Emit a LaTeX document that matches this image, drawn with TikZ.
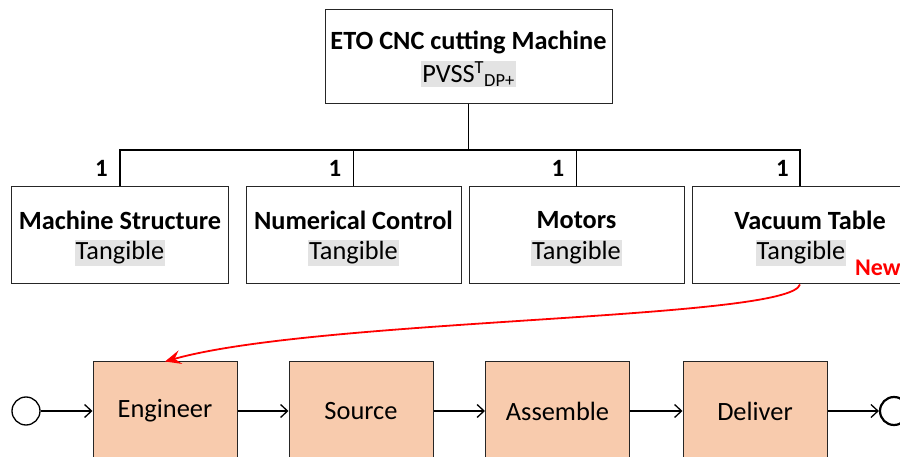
\documentclass[tikz,border=0pt]{standalone}
\usepackage{fontspec}
\setmainfont{Carlito}
\usetikzlibrary{arrows.meta}
\definecolor{peach}{HTML}{F8CBAD}
\definecolor{hl}{HTML}{E3E3E3}
\definecolor{newred}{HTML}{FF0000}
\begin{document}
\begin{tikzpicture}[x=1bp,y=-1bp,
  box/.style={draw=black!85,line width=1bp,fill=white,minimum width=#1,minimum height=97bp,inner sep=0pt},
  topbox/.style={draw=black!85,line width=1bp,fill=white,minimum width=287bp,minimum height=94bp,inner sep=0pt},
  nametxt/.style={font=\fontsize{26.4}{28}\selectfont\bfseries,inner sep=0pt},
  subtxt/.style={font=\fontsize{26.4}{28}\selectfont,fill=hl,inner sep=1.2bp},
  mult/.style={font=\fontsize{25}{28}\selectfont\bfseries,inner sep=0pt,anchor=east},
  tree/.style={line width=1.8bp,black},
  stepbox/.style={draw=black!85,line width=1bp,fill=peach,minimum width=144bp,minimum height=98bp,inner sep=0pt,font=\fontsize{26.5}{28}\selectfont},
  flow/.style={line width=1.3bp,-{Straight Barb[length=7bp,width=13bp,line width=1.3bp]}},
  ev/.style={circle,draw=black,minimum size=28bp,inner sep=0pt}
]
\useasboundingbox (0,0) rectangle (900,457);

% top
\node[topbox] (top) at (468.5,57) {};
\node[nametxt] (toptitle) at (468.5,42) {ETO CNC cutting Machine};
\node[subtxt] (topsub) at (468.5,74) {PVSS\textsuperscript{T}\textsubscript{DP+}};

% second level
\node[box=216bp] (b1) at (120,235.5) {};
\node[box=215bp] (b2) at (353.5,235.5) {};
\node[box=215bp] (b3) at (576.5,235.5) {};
\node[box=216bp] (b4) at (800,235.5) {};

\node[nametxt] (n1) at (120,220) {Machine Structure};
\node[nametxt] (n2) at (353.5,220) {Numerical Control};
\node[nametxt] (n3) at (576.5,220) {Motors};
\node[nametxt] (n4) at (810,220) {Vacuum Table};
\node[subtxt] (t1) at (120,253) {Tangible};
\node[subtxt] (t2) at (353.5,253) {Tangible};
\node[subtxt] (t3) at (576.5,253) {Tangible};
\node[subtxt] (t4) at (801,253) {Tangible};

\coordinate (bus) at (468.5,150);
\draw[tree] (top.south) -- (bus);
\draw[tree] (b1.north) -- (b1.north |- bus) -- (b4.north |- bus) -- (b4.north);
\draw[tree] (b2.north) -- (b2.north |- bus);
\draw[tree] (b3.north) -- (b3.north |- bus);

\node[mult] (m1) at (108,168) {1};
\node[mult] (m2) at (341.5,168) {1};
\node[mult] (m3) at (564.5,168) {1};
\node[mult] (m4) at (789,168) {1};

\node[font=\fontsize{24}{26}\selectfont\bfseries,text=newred,anchor=west,inner sep=0pt] (new) at (855,268) {New};

% process
\node[ev,line width=1.3bp] (start) at (26,411) {};
\node[stepbox] (e1) at (165,411) {Engineer};
\node[stepbox] (e2) at (361,411) {Source};
\node[stepbox] (e3) at (557.5,411) {Assemble};
\node[stepbox] (e4) at (755,411) {Deliver};
\node[ev,line width=2.2bp] (end) at (894,411) {};

\draw[flow] (start) -- (e1);
\draw[flow] (e1) -- (e2);
\draw[flow] (e2) -- (e3);
\draw[flow] (e3) -- (e4);
\draw[flow] (e4) -- (end);

\draw[newred,line width=1.8bp,-{Stealth[length=16bp,width=14bp,inset=6bp]}] (b4.south) .. controls (790,320) and (320,318) .. (e1.north);
\end{tikzpicture}
\end{document}
